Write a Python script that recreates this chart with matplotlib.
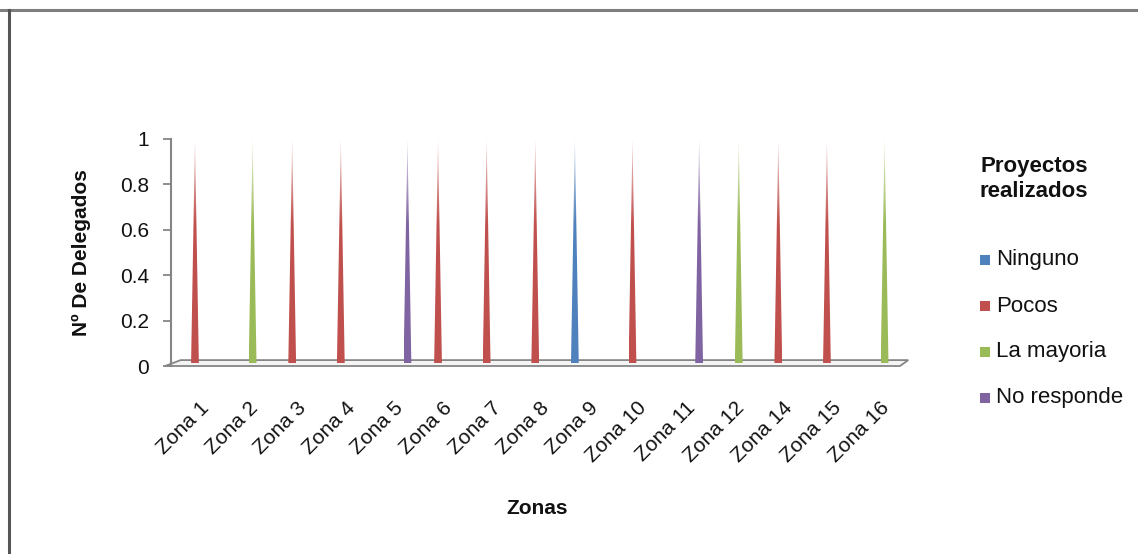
import matplotlib
matplotlib.use('Agg')
import matplotlib.pyplot as plt
from matplotlib.lines import Line2D
from matplotlib.patches import Rectangle, Polygon
import numpy as np

plt.rcParams['font.family'] = ['Liberation Sans', 'DejaVu Sans']

# data: one delegate per zone, split by answer
zonas = ['Zona 1', 'Zona 2', 'Zona 3', 'Zona 4', 'Zona 5', 'Zona 6', 'Zona 7', 'Zona 8',
         'Zona 9', 'Zona 10', 'Zona 11', 'Zona 12', 'Zona 14', 'Zona 15', 'Zona 16']
series_names = ['Ninguno', 'Pocos', 'La mayoria', 'No responde']
ninguno     = [0, 0, 0, 0, 0, 0, 0, 0, 1, 0, 0, 0, 0, 0, 0]
pocos       = [1, 0, 1, 1, 0, 1, 1, 1, 0, 1, 0, 0, 1, 1, 0]
la_mayoria  = [0, 1, 0, 0, 0, 0, 0, 0, 0, 0, 0, 1, 0, 0, 1]
no_responde = [0, 0, 0, 0, 1, 0, 0, 0, 0, 0, 1, 0, 0, 0, 0]
yticks = [0, 0.2, 0.4, 0.6, 0.8, 1]

colors = ['#4F81BD', '#C0504D', '#9BBB59', '#8064A2']
all_series = [ninguno, pocos, la_mayoria, no_responde]

W, H = 1138, 554
fig = plt.figure(figsize=(W / 100, H / 100), dpi=100)
ax = fig.add_axes([171 / W, (H - 366) / H, 729 / W, 227 / H])

xmin, xmax = -0.586, 14.41
ax.set_xlim(xmin, xmax)
ax.set_ylim(0, 1)

gray = '#868686'

# 3d-ish floor
dy = 0.026
floor = Polygon([(xmin - 0.12, 0), (xmin + 0.2, dy), (xmax + 0.17, dy), (xmax, 0)],
                closed=True, facecolor='#f4f4f4', edgecolor=gray, lw=1.3, clip_on=False, zorder=1)
ax.add_patch(floor)


def cone_gradient(c, n=100):
    # solid at the base, fading to white near the tip
    rgb = np.array(matplotlib.colors.to_rgb(c))
    fr = np.linspace(0, 1, n)
    f = np.clip((fr - 0.62) / 0.38, 0, 1) * 0.75
    img = rgb[None, :] + (1 - rgb[None, :]) * f[:, None]
    return img[:, None, :]


# cones
offsets = [-0.278, -0.093, 0.093, 0.278]
hw = 0.08
for s, vals in enumerate(all_series):
    grad = cone_gradient(colors[s])
    for i, v in enumerate(vals):
        if v <= 0:
            continue
        xc = i + offsets[s]
        base = dy / 2
        tri = Polygon([(xc - hw, base), (xc + hw, base), (xc, v)], closed=True,
                      facecolor='none', edgecolor='none', transform=ax.transData)
        ax.add_patch(tri)
        im = ax.imshow(grad, extent=[xc - hw, xc + hw, base, v], origin='lower',
                       aspect='auto', interpolation='bilinear', zorder=3)
        im.set_clip_path(tri)

# axes styling
ax.set_xlim(xmin, xmax)
ax.set_ylim(0, 1)
for sp in ['top', 'right', 'bottom']:
    ax.spines[sp].set_visible(False)
ax.spines['left'].set_color(gray)
ax.spines['left'].set_linewidth(1.5)
ax.set_yticks(yticks)
ax.set_yticklabels(['%g' % t for t in yticks])
ax.tick_params(axis='y', length=6, width=1.3, color=gray, pad=10, labelsize=15, labelcolor='#111111')
ax.set_xticks(range(len(zonas)))
ax.set_xticklabels(zonas, rotation=45, ha='right', va='top', rotation_mode='anchor',
                   fontsize=15, color='#111111')
ax.tick_params(axis='x', length=0, pad=23)

fig.text(81 / W, 1 - 253 / H, 'Nº De Delegados', rotation=90, ha='center', va='center',
         fontsize=15, fontweight='bold', color='#111111')
fig.text(537 / W, 1 - 508 / H, 'Zonas', ha='center', va='center',
         fontsize=15, fontweight='bold', color='#111111')

# legend
fig.text(1034 / W, 1 - 179 / H, 'Proyectos\nrealizados', ha='center', va='center',
         fontsize=16, fontweight='bold', color='#111111', linespacing=1.25)
for s, name in enumerate(series_names):
    yc = 260 + s * 46
    fig.add_artist(Rectangle((980 / W, 1 - (yc + 5) / H), 10 / W, 10 / H,
                             transform=fig.transFigure, facecolor=colors[s], edgecolor='none'))
    fig.text(996 / W, 1 - yc / H, name, ha='left', va='center', fontsize=16, color='#111111')

# frame of the chart area
fig.add_artist(Line2D([0, 1], [1 - 10 / H, 1 - 10 / H], transform=fig.transFigure,
                      color='#7f7f7f', lw=2.2))
fig.add_artist(Line2D([9 / W, 9 / W], [0, 1 - 10 / H], transform=fig.transFigure,
                      color='#555555', lw=2.2))

fig.savefig('out.png', dpi=100, facecolor='white')
